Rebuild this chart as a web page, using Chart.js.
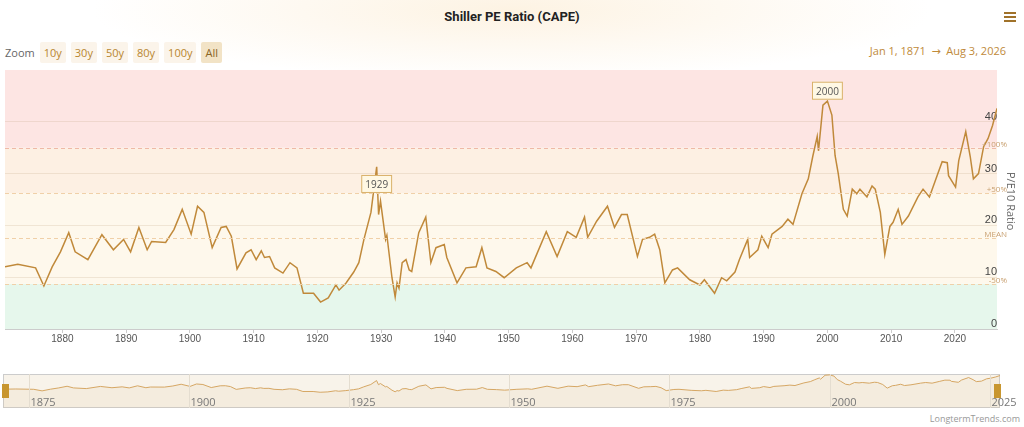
<!DOCTYPE html>
<html>
<head>
<meta charset="utf-8">
<script src="https://cdn.jsdelivr.net/npm/chart.js@4"></script>
<style>
  body { margin: 0; width: 1024px; height: 427px; overflow: hidden; font-family: "Open Sans", "DejaVu Sans", sans-serif;
         background: radial-gradient(ellipse 420px 70px at 512px 10px, #fdf3e3 0%, #ffffff 100%); position: relative; }
  #title { position: absolute; top: 9px; left: 0; width: 1024px; text-align: center; font-size: 13px; font-weight: bold; color: #222; font-family: "Liberation Sans Narrow", "Roboto", sans-serif; }
  #zoom { position: absolute; top: 42px; left: 5px; font-size: 11px; color: #666; display: flex; align-items: center; }
  #zoom span.b { background: #fbf4ea; color: #b8862f; padding: 3px 4px; margin-left: 5px; border-radius: 2px; }
  #zoom span.on { background: #f2e3c6; color: #8a6424; }
  #range { position: absolute; top: 43px; right: 18px; font-size: 11px; color: #c08a3a; }
  #menu { position: absolute; top: 12px; right: 8px; width: 12px; }
  #menu div { height: 2px; background: #a0722a; margin-bottom: 2px; }
  #main { position: absolute; left: 0; top: 0; }
  #nav { position: absolute; left: 0; top: 372px; }
  #ytitle { position: absolute; left: 1019px; top: 172px; transform: rotate(90deg); transform-origin: left top; font-size: 11px; color: #666; white-space: nowrap; }
  #credit { position: absolute; right: 4px; top: 412px; font-size: 9px; color: #999; }
</style>
</head>
<body>
<div id="title">Shiller PE Ratio (CAPE)</div>
<div id="zoom">Zoom <span class="b">10y</span><span class="b">30y</span><span class="b">50y</span><span class="b">80y</span><span class="b">100y</span><span class="b on">All</span></div>
<div id="range">Jan 1, 1871 &nbsp;→&nbsp; Aug 3, 2026</div>
<div id="menu"><div></div><div></div><div></div></div>
<canvas id="main" width="1024" height="360"></canvas>
<canvas id="nav" width="1024" height="36"></canvas>
<div id="ytitle">P/E10 Ratio</div>
<div id="credit">LongtermTrends.com</div>
<script>
const years = [1871, 1873, 1875.8, 1877.1, 1878.4, 1879.7, 1881, 1882, 1884, 1886.2, 1888, 1889.6, 1890.7, 1892, 1893.3, 1894, 1896.2, 1897.5, 1898.8, 1900.2, 1901.2, 1902.2, 1903.5, 1904.9, 1905.7, 1906.5, 1907.4, 1908.8, 1909.6, 1910.4, 1911.2, 1911.7, 1912.5, 1913.3, 1914.6, 1915.7, 1916.8, 1917.8, 1919.4, 1920.5, 1921.7, 1922.9, 1923.4, 1924.5, 1925.7, 1926.5, 1927.3, 1928.4, 1929.3, 1929.6, 1929.9, 1930.7, 1930.9, 1931.7, 1932.2, 1932.5, 1932.8, 1933.3, 1933.9, 1934.4, 1934.8, 1935.9, 1937, 1937.8, 1938.6, 1939.9, 1940.3, 1941.9, 1943.3, 1944.9, 1945.8, 1946.6, 1948, 1949.3, 1951.2, 1952.9, 1953.5, 1955.9, 1957.6, 1959.2, 1960.6, 1961.9, 1962.4, 1963.8, 1965.5, 1966.6, 1967.7, 1968.6, 1970.2, 1971, 1972.1, 1972.9, 1973.7, 1974.5, 1975.7, 1976.5, 1978.4, 1980, 1980.7, 1982.3, 1983.4, 1984.2, 1985.5, 1986.2, 1987.5, 1987.8, 1989.1, 1989.7, 1990.7, 1991.3, 1992.9, 1993.8, 1994.6, 1996, 1997, 1997.7, 1998.4, 1998.6, 1999.3, 2000, 2000.7, 2001.2, 2001.7, 2002.5, 2003.1, 2003.9, 2004.6, 2005.1, 2006.2, 2007, 2007.5, 2008.3, 2009, 2009.8, 2010.3, 2011.1, 2011.7, 2012.7, 2014.2, 2015, 2016, 2017.2, 2018, 2018.8, 2019, 2020.1, 2020.6, 2021.7, 2022.4, 2022.9, 2023.7, 2024.5, 2025.2, 2025.9, 2026.6];
const cape = [12.0, 12.5, 11.8, 8.3, 12.0, 14.9, 18.6, 14.9, 13.4, 18.2, 15.3, 17.3, 14.9, 19.6, 15.3, 16.9, 16.7, 19.2, 23.1, 18.3, 23.7, 22.5, 15.7, 19.6, 19.8, 17.9, 11.6, 14.7, 15.3, 13.4, 15.1, 13.8, 14.0, 11.8, 10.8, 12.8, 11.8, 6.9, 6.9, 5.2, 6.0, 8.5, 7.5, 8.9, 11.0, 12.8, 17.3, 22.5, 31.3, 22.1, 24.7, 17.3, 18.1, 9.9, 6.2, 8.9, 7.9, 12.8, 13.4, 11.4, 11.1, 18.6, 21.6, 12.8, 15.7, 16.3, 13.8, 8.9, 11.8, 12.0, 15.7, 11.8, 11.1, 9.9, 11.8, 12.8, 11.8, 18.8, 14.0, 18.8, 17.7, 21.6, 17.7, 20.8, 23.7, 19.6, 22.1, 22.1, 14.0, 17.3, 17.7, 18.3, 15.3, 8.9, 11.4, 11.8, 9.5, 8.5, 9.5, 6.9, 9.9, 9.3, 11.0, 13.4, 17.3, 13.8, 15.3, 17.9, 15.7, 18.3, 19.8, 21.2, 20.2, 26.1, 29.0, 33.3, 37.2, 34.4, 43.2, 44.0, 41.3, 33.5, 30.0, 23.1, 21.8, 27.0, 26.1, 27.0, 25.5, 27.6, 27.0, 22.5, 14.4, 19.8, 20.6, 23.1, 20.2, 21.8, 25.5, 27.0, 25.5, 29.6, 32.3, 32.1, 29.6, 27.4, 32.5, 38.1, 33.3, 29.0, 30.0, 35.2, 36.8, 39.3, 42.6];
const yTicks = [0, 10, 20, 30, 40];
const bandLevels = [8.75, 17.5, 26.25, 35];
const bandLabels = ['-50%', 'MEAN', '+50%', '+100%'];
const flagYears = [1929.3, 2000];
const flagLabels = ['1929', '2000'];
const navTicks = [1875, 1900, 1925, 1950, 1975, 2000, 2025];

const points = years.map((y, i) => ({ x: y, y: cape[i] }));
const lineColor = '#c0893a';

const bandsPlugin = {
  id: 'bands',
  beforeDraw(chart) {
    const { ctx, chartArea: a, scales: { y } } = chart;
    const fills = ['#e6f7ec', '#fef8ec', '#fef8ec', '#fdf0e3', '#fde5e3'];
    const edges = [y.min, ...bandLevels, y.max];
    ctx.save();
    for (let i = 0; i < fills.length; i++) {
      const top = y.getPixelForValue(edges[i + 1]);
      const bot = y.getPixelForValue(edges[i]);
      ctx.fillStyle = fills[i];
      ctx.fillRect(a.left, top, a.right - a.left, bot - top);
    }
    ctx.restore();
  },
  afterDatasetsDraw(chart) {
    const { ctx, chartArea: a, scales: { x, y } } = chart;
    ctx.save();
    ctx.setLineDash([4, 3]);
    ctx.lineWidth = 1;
    bandLevels.forEach((v, i) => {
      const py = Math.round(y.getPixelForValue(v)) + 0.5;
      ctx.strokeStyle = i === 3 ? '#efb9a6' : '#f0d0a8';
      ctx.beginPath(); ctx.moveTo(a.left, py); ctx.lineTo(a.right, py); ctx.stroke();
      ctx.fillStyle = '#c9a172';
      ctx.font = '8px "Open Sans", sans-serif';
      ctx.textAlign = 'right';
      ctx.fillText(bandLabels[i], a.right + 10, py - 2);
    });
    ctx.setLineDash([]);
    // flags
    flagYears.forEach((fy, i) => {
      const px = x.getPixelForValue(fy);
      const py = i === 0 ? y.getPixelForValue(28) : y.getPixelForValue(46);
      ctx.font = '10px "Open Sans", sans-serif';
      const w = ctx.measureText(flagLabels[i]).width + 8;
      ctx.fillStyle = '#fff8e4';
      ctx.strokeStyle = '#d9b06a';
      ctx.fillRect(px - w / 2, py - 9, w, 18);
      ctx.strokeRect(px - w / 2 + 0.5, py - 8.5, w - 1, 17);
      ctx.fillStyle = '#555';
      ctx.textAlign = 'center';
      ctx.textBaseline = 'middle';
      ctx.fillText(flagLabels[i], px, py + 1);
    });
    ctx.restore();
  }
};

new Chart(document.getElementById('main'), {
  type: 'line',
  data: { datasets: [{ data: points, borderColor: lineColor, borderWidth: 1.5, pointRadius: 0, tension: 0, fill: false }] },
  options: {
    responsive: false, animation: false,
    plugins: { legend: { display: false }, tooltip: { enabled: false } },
    layout: { padding: { left: 5, right: 27, top: 70, bottom: 0 } },
    scales: {
      x: {
        type: 'linear', min: 1871, max: 2026.6,
        afterBuildTicks: s => { s.ticks = []; for (let v = 1880; v <= 2020; v += 10) s.ticks.push({ value: v }); },
        ticks: { color: '#555', font: { size: 10 }, callback: v => String(v), maxRotation: 0, padding: 0 },
        grid: { display: true, drawOnChartArea: false, tickLength: 4, color: '#ccc' },
        border: { color: '#ccc' },
        afterFit: s => { s.height = 31; }
      },
      y: {
        position: 'right', min: 0, max: 50,
        afterBuildTicks: s => { s.ticks = yTicks.map(v => ({ value: v })); },
        ticks: { mirror: true, color: '#444', font: { size: 11 }, padding: 0, labelOffset: -5 },
        grid: { color: 'rgba(200,170,140,0.25)', drawTicks: false },
        border: { display: false },
        afterFit: s => { s.width = 0; }
      }
    }
  },
  plugins: [bandsPlugin]
});

const navPlugin = {
  id: 'navdeco',
  beforeDraw(chart) {
    const { ctx, chartArea: a } = chart;
    ctx.save();
    ctx.fillStyle = '#f8f3ea';
    ctx.fillRect(a.left, a.top, a.right - a.left, a.bottom - a.top);
    ctx.strokeStyle = '#ccc';
    ctx.strokeRect(a.left + 0.5, a.top + 0.5, a.right - a.left - 1, a.bottom - a.top - 1);
    ctx.restore();
  },
  afterDraw(chart) {
    const { ctx, chartArea: a, scales: { x } } = chart;
    ctx.save();
    ctx.font = '11px "Open Sans", sans-serif';
    ctx.fillStyle = '#777';
    ctx.strokeStyle = '#e4ddd0';
    navTicks.forEach(t => {
      const px = Math.round(x.getPixelForValue(t)) + 0.5;
      ctx.beginPath(); ctx.moveTo(px, a.top); ctx.lineTo(px, a.bottom); ctx.stroke();
      ctx.fillText(String(t), px + 1, a.bottom - 2);
    });
    [a.left - 1, a.right - 6].forEach(hx => {
      ctx.fillStyle = '#c8962f';
      ctx.fillRect(hx, a.top + 10, 7, 14);
    });
    ctx.restore();
  }
};

new Chart(document.getElementById('nav'), {
  type: 'line',
  data: { datasets: [{ data: points, borderColor: '#d6a764', borderWidth: 1, pointRadius: 0, fill: 'start', backgroundColor: 'rgba(220,190,140,0.12)' }] },
  options: {
    responsive: false, animation: false,
    plugins: { legend: { display: false }, tooltip: { enabled: false } },
    layout: { padding: { left: 3, right: 24, top: 2, bottom: 0 } },
    scales: {
      x: { type: 'linear', min: 1871, max: 2026.6, display: false },
      y: { min: -30, max: 46, display: false }
    }
  },
  plugins: [navPlugin]
});
</script>
</body>
</html>
